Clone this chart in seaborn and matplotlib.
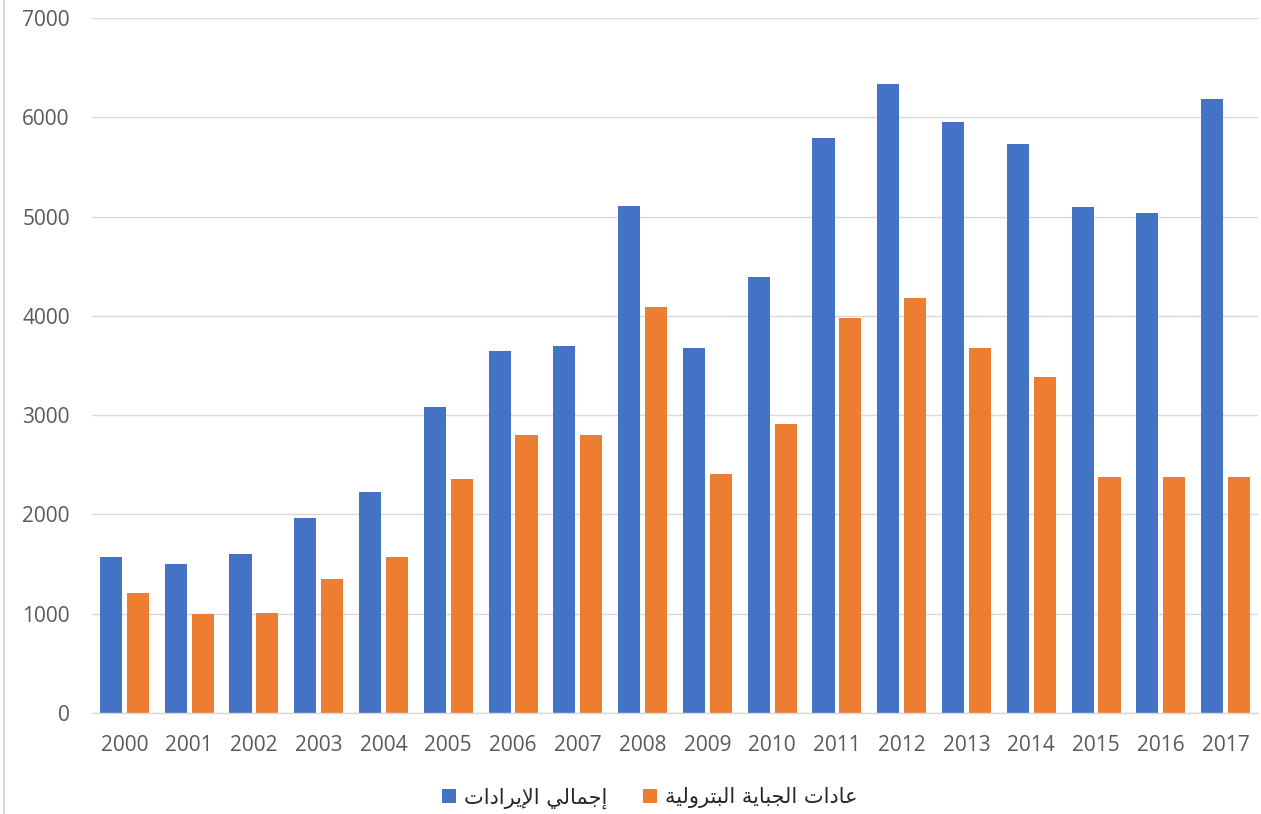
import matplotlib
matplotlib.use("Agg")
import matplotlib.pyplot as plt
from matplotlib.lines import Line2D
import seaborn as sns
import pandas as pd

# ---------------- data ----------------
years = [str(y) for y in range(2000, 2018)]
total_revenue = [1570, 1500, 1600, 1965, 2230, 3085, 3643, 3694, 5108, 3674,
                 4390, 5788, 6340, 5957, 5735, 5098, 5040, 6182]
oil_revenue = [1210, 1000, 1007, 1350, 1570, 2354, 2802, 2795, 4088, 2411,
               2906, 3977, 4179, 3677, 3384, 2374, 2374, 2374]
series_names = ["إجمالي الإيرادات", "عادات الجباية البترولية"]
y_ticks = [0, 1000, 2000, 3000, 4000, 5000, 6000, 7000]
colors = ["#4472C4", "#ED7D31"]

# -------- minimal Arabic shaping (contextual forms + RTL order) --------
FORMS = {
    '\u0627': ('\uFE8D', '\uFE8E', None, None),
    '\u0625': ('\uFE87', '\uFE88', None, None),
    '\u0623': ('\uFE83', '\uFE84', None, None),
    '\u0628': ('\uFE8F', '\uFE90', '\uFE91', '\uFE92'),
    '\u0629': ('\uFE93', '\uFE94', None, None),
    '\u062A': ('\uFE95', '\uFE96', '\uFE97', '\uFE98'),
    '\u062C': ('\uFE9D', '\uFE9E', '\uFE9F', '\uFEA0'),
    '\u062F': ('\uFEA9', '\uFEAA', None, None),
    '\u0631': ('\uFEAD', '\uFEAE', None, None),
    '\u0639': ('\uFEC9', '\uFECA', '\uFECB', '\uFECC'),
    '\u0644': ('\uFEDD', '\uFEDE', '\uFEDF', '\uFEE0'),
    '\u0645': ('\uFEE1', '\uFEE2', '\uFEE3', '\uFEE4'),
    '\u0648': ('\uFEED', '\uFEEE', None, None),
    '\u064A': ('\uFEF1', '\uFEF2', '\uFEF3', '\uFEF4'),
}
LAM_ALEF = {'\u0627': ('\uFEFB', '\uFEFC', None, None),
            '\u0625': ('\uFEF9', '\uFEFA', None, None),
            '\u0623': ('\uFEF7', '\uFEF8', None, None),
            '\u0622': ('\uFEF5', '\uFEF6', None, None)}


def shape_arabic(text):
    toks = []
    i = 0
    while i < len(text):
        c = text[i]
        if c == '\u0644' and i + 1 < len(text) and text[i + 1] in LAM_ALEF:
            toks.append(LAM_ALEF[text[i + 1]])
            i += 2
            continue
        toks.append(FORMS.get(c, c))
        i += 1
    out = []
    for k, t in enumerate(toks):
        if not isinstance(t, tuple):
            out.append(t)
            continue
        prev = toks[k - 1] if k > 0 else None
        nxt = toks[k + 1] if k + 1 < len(toks) else None
        p = isinstance(prev, tuple) and prev[2] is not None
        n = t[2] is not None and isinstance(nxt, tuple)
        if p and n:
            out.append(t[3])
        elif p:
            out.append(t[1])
        elif n:
            out.append(t[2])
        else:
            out.append(t[0])
    return ''.join(out)[::-1]


# ---------------- figure ----------------
sns.set_theme(style="white")
plt.rcParams['font.family'] = ['Open Sans', 'DejaVu Sans']

df = pd.DataFrame({
    "year": years * 2,
    "value": total_revenue + oil_revenue,
    "series": [series_names[0]] * len(years) + [series_names[1]] * len(years),
})

W, H = 1261, 814
fig = plt.figure(figsize=(W / 100, H / 100), dpi=100)
ax = fig.add_axes([92 / W, 1 - 713 / H, (1258 - 92) / W, (713 - 18) / H])

sns.barplot(data=df, x="year", y="value", hue="series", hue_order=series_names,
            palette=colors, width=0.83, gap=0.18, linewidth=0, ax=ax,
            saturation=1)

ax.set_ylim(0, 7000)
ax.set_xlim(-0.5, len(years) - 0.5)
ax.set_yticks(y_ticks)
ax.set_xlabel("")
ax.set_ylabel("")
ax.set_axisbelow(True)
ax.yaxis.grid(True, color="#D9D9D9", linewidth=1.0)
ax.xaxis.grid(False)
for s in ["top", "right", "left"]:
    ax.spines[s].set_visible(False)
ax.spines["bottom"].set_color("#D9D9D9")
ax.spines["bottom"].set_linewidth(1.0)
ax.tick_params(axis="both", length=0, labelsize=15, labelcolor="#595959")
ax.tick_params(axis="y", pad=16)
ax.tick_params(axis="x", pad=16)

handles, labels = ax.get_legend_handles_labels()
ax.get_legend().remove()
fig.legend(handles, [shape_arabic(l) for l in labels], loc="center",
           bbox_to_anchor=(650 / W, 1 - 798 / H), ncol=2, frameon=False,
           handlelength=0.65, handleheight=0.65, handletextpad=0.4,
           columnspacing=1.7,
           prop={"family": ["DejaVu Sans"], "size": 15})

# light chart border on the left edge
fig.add_artist(Line2D([3.5 / W, 3.5 / W], [0, 1], transform=fig.transFigure,
                      color="#D9D9D9", linewidth=1.5))

fig.savefig("out.png", dpi=100)
